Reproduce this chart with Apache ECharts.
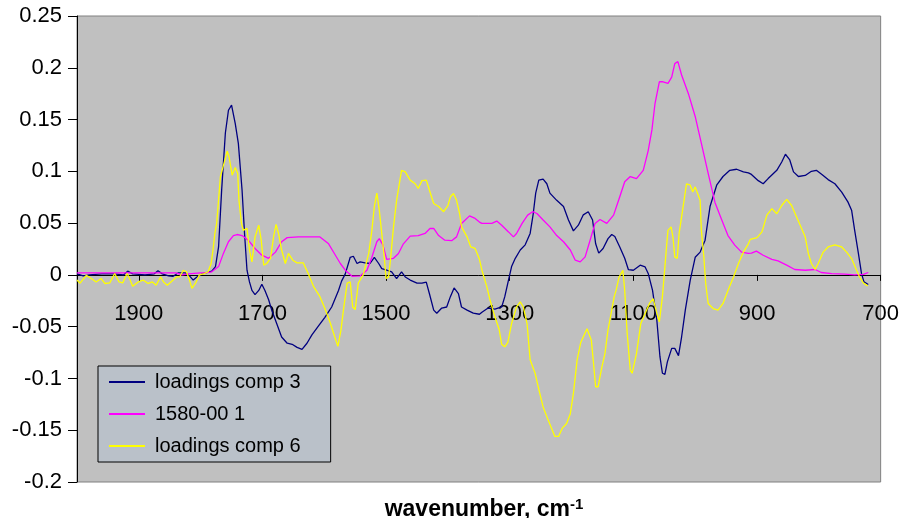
<!DOCTYPE html>
<html>
<head>
<meta charset="utf-8">
<script src="https://cdn.jsdelivr.net/npm/echarts@6/dist/echarts.min.js"></script>
<style>
html,body{margin:0;padding:0;background:#fff;}
#chart{width:902px;height:518px;}
</style>
</head>
<body>
<div id="chart"></div>
<script>
// ---- data ----
const seriesNames = ['loadings comp 3', '1580-00 1', 'loadings comp 6'];

const comp3Wn = [2000,1990,1980,1960,1940,1925,1918,1910,1890,1875,1869,1862,1852,1845,1836,1825,1818,1812,1806,1798,1792,1782,1776,1771,1766,1760,1755,1750,1744,1739,1733,1729,1725,1721,1717,1712,1706,1701,1696,1690,1685,1677,1669,1660,1652,1644,1636,1628,1620,1609,1599,1588,1577,1572,1566,1558,1553,1547,1542,1534,1526,1519,1512,1507,1499,1491,1483,1475,1469,1461,1450,1442,1435,1430,1423,1418,1410,1402,1396,1390,1383,1378,1369,1359,1349,1345,1335,1324,1313,1308,1302,1297,1291,1283,1275,1267,1262,1258,1253,1246,1240,1235,1224,1213,1205,1197,1189,1181,1173,1166,1161,1156,1149,1141,1135,1130,1122,1114,1108,1100,1089,1081,1076,1069,1062,1057,1053,1049,1045,1038,1033,1027,1022,1016,1008,1000,992,984,976,965,955,944,933,922,914,909,898,890,882,868,860,854,847,841,833,822,812,804,795,785,774,763,753,747,742,736,731,727,720];
const comp3Val = [0.001,-0.001,0.0,0.001,0.001,0.0,0.0036,0.001,0.0,0.001,0.004,0.001,-0.001,-0.0015,0.002,0.002,-0.001,-0.005,-0.002,0.001,0.002,0.0036,0.008,0.027,0.082,0.137,0.159,0.164,0.146,0.127,0.082,0.040,0.0045,-0.0068,-0.015,-0.019,-0.015,-0.009,-0.015,-0.024,-0.034,-0.047,-0.060,-0.066,-0.067,-0.070,-0.072,-0.066,-0.058,-0.049,-0.041,-0.031,-0.015,-0.006,0.001,0.017,0.018,0.011,0.0125,0.0116,0.011,0.017,0.011,0.006,0.0045,0.003,-0.0035,0.003,-0.002,-0.005,-0.008,-0.008,-0.007,-0.018,-0.034,-0.037,-0.032,-0.031,-0.021,-0.0126,-0.018,-0.031,-0.034,-0.037,-0.038,-0.036,-0.032,-0.033,-0.031,-0.021,-0.005,0.008,0.016,0.024,0.029,0.040,0.059,0.079,0.0915,0.0925,0.088,0.079,0.072,0.066,0.053,0.0425,0.048,0.058,0.061,0.053,0.030,0.021,0.0255,0.035,0.039,0.037,0.027,0.016,0.005,0.0045,0.0094,0.0077,0.0014,-0.015,-0.044,-0.079,-0.095,-0.096,-0.084,-0.071,-0.071,-0.078,-0.060,-0.034,-0.005,0.017,0.022,0.0335,0.066,0.087,0.095,0.101,0.102,0.0995,0.0985,0.097,0.091,0.088,0.093,0.101,0.109,0.1165,0.111,0.0995,0.095,0.096,0.100,0.101,0.097,0.092,0.088,0.080,0.0705,0.0625,0.043,0.0207,0.0014,-0.0068,-0.0093];

const ref1580Wn = [2000,1900,1840,1830,1820,1800,1792,1782,1771,1763,1755,1747,1741,1733,1723,1712,1701,1690,1679,1669,1660,1642,1620,1607,1593,1582,1574,1566,1555,1542,1531,1523,1515,1511,1505,1499,1488,1480,1472,1461,1448,1437,1429,1423,1415,1405,1394,1386,1378,1365,1356,1349,1345,1329,1321,1313,1302,1294,1289,1280,1271,1263,1256,1246,1235,1224,1213,1202,1194,1186,1178,1170,1162,1154,1143,1132,1122,1114,1105,1095,1084,1076,1070,1065,1058,1052,1044,1038,1033,1028,1022,1011,1000,990,979,968,957,947,936,925,914,909,901,890,876,866,852,839,822,806,796,779,758,742,728,720];
const ref1580Val = [0.002,0.002,0.002,0.0,0.001,0.002,0.002,0.003,0.008,0.021,0.032,0.038,0.039,0.038,0.0335,0.0255,0.019,0.016,0.022,0.032,0.036,0.0367,0.0367,0.0367,0.030,0.019,0.011,0.0045,-0.0013,-0.001,0.0045,0.017,0.032,0.035,0.0287,0.015,0.016,0.0207,0.030,0.0374,0.038,0.040,0.0448,0.0448,0.038,0.0335,0.033,0.0367,0.0497,0.057,0.0545,0.051,0.0497,0.0497,0.052,0.048,0.0415,0.0367,0.040,0.0497,0.0577,0.061,0.0593,0.053,0.0464,0.038,0.032,0.024,0.0142,0.0126,0.0174,0.0335,0.0497,0.0535,0.0497,0.0577,0.0754,0.0899,0.095,0.093,0.101,0.120,0.140,0.1655,0.1865,0.1865,0.185,0.191,0.204,0.206,0.193,0.175,0.153,0.127,0.098,0.070,0.053,0.038,0.0287,0.022,0.0207,0.021,0.023,0.019,0.015,0.0135,0.0094,0.0052,0.0045,0.0052,0.0023,0.0013,0.0007,0.0,0.0004,0.0023];

const comp6Wn = [2000,1995,1985,1977,1969,1961,1955,1947,1939,1932,1926,1919,1915,1910,1901,1893,1885,1878,1872,1865,1860,1854,1848,1839,1834,1828,1823,1818,1814,1808,1802,1794,1788,1783,1780,1777,1774,1768,1763,1757,1754,1749,1744,1740,1738,1734,1731,1725,1721,1717,1712,1706,1702,1698,1693,1687,1682,1678,1674,1669,1663,1658,1651,1644,1634,1626,1617,1607,1599,1590,1583,1578,1573,1569,1563,1558,1554,1550,1545,1537,1528,1523,1519,1515,1511,1507,1503,1500,1496,1493,1488,1483,1478,1475,1469,1461,1453,1448,1442,1435,1430,1423,1415,1407,1400,1396,1391,1386,1381,1378,1369,1363,1356,1349,1345,1337,1332,1324,1317,1313,1308,1303,1297,1289,1283,1278,1272,1267,1259,1254,1246,1238,1231,1227,1221,1215,1208,1202,1197,1191,1185,1175,1168,1165,1161,1157,1151,1146,1141,1135,1131,1128,1123,1117,1114,1110,1105,1102,1095,1088,1081,1074,1068,1062,1058,1053,1049,1046,1044,1039,1036,1033,1029,1026,1022,1018,1014,1008,1004,1000,997,992,990,986,983,979,971,963,955,947,938,930,922,914,911,900,892,884,876,868,860,852,844,836,828,822,817,812,806,801,793,785,774,763,755,747,739,734,728,721];
const comp6Val = [-0.005,-0.008,-0.0005,-0.0035,-0.0068,-0.0035,-0.0083,-0.0077,0.0013,-0.0068,-0.0077,0.0013,-0.0035,-0.011,-0.0068,-0.005,-0.0083,-0.0068,-0.010,-0.002,-0.0068,-0.010,-0.0068,-0.002,-0.002,0.0045,0.003,-0.005,-0.013,-0.0077,0.0,0.0013,0.003,0.011,0.024,0.040,0.050,0.095,0.106,0.1195,0.114,0.0963,0.1037,0.098,0.072,0.050,0.043,0.045,0.024,0.0126,0.0367,0.048,0.0335,0.0094,0.011,0.016,0.0367,0.0487,0.040,0.024,0.011,0.0207,0.0142,0.0116,0.0116,0.0013,-0.0116,-0.021,-0.0325,-0.047,-0.060,-0.069,-0.0534,-0.034,-0.008,-0.0068,-0.031,-0.0335,-0.008,0.0,0.021,0.043,0.066,0.079,0.0625,0.040,0.0174,-0.0035,-0.002,0.0142,0.0464,0.072,0.090,0.101,0.0995,0.0915,0.088,0.0835,0.091,0.0915,0.082,0.069,0.066,0.061,0.067,0.0754,0.0786,0.072,0.059,0.0464,0.0367,0.027,0.0255,0.015,0.0045,-0.0116,-0.024,-0.0405,-0.053,-0.067,-0.0695,-0.065,-0.047,-0.031,-0.026,-0.031,-0.047,-0.082,-0.095,-0.108,-0.1275,-0.140,-0.150,-0.156,-0.156,-0.148,-0.1435,-0.134,-0.1145,-0.082,-0.065,-0.052,-0.063,-0.082,-0.108,-0.108,-0.089,-0.076,-0.053,-0.034,-0.021,-0.015,-0.002,0.0045,-0.015,-0.0566,-0.092,-0.095,-0.076,-0.047,-0.0373,-0.0276,-0.023,-0.0373,-0.0454,-0.021,0.0077,0.030,0.043,0.0464,0.0367,0.0174,0.016,0.040,0.056,0.072,0.088,0.0866,0.080,0.085,0.085,0.072,0.043,0.0174,-0.0083,-0.0276,-0.0325,-0.034,-0.0276,-0.015,-0.002,0.011,0.022,0.030,0.0342,0.036,0.0415,0.0577,0.064,0.059,0.067,0.073,0.067,0.056,0.045,0.0367,0.0207,0.011,0.0052,0.011,0.022,0.027,0.029,0.027,0.022,0.0158,0.0045,-0.002,-0.0077,-0.0106];

const yTicks = {min: -0.2, max: 0.25, step: 0.05};
const xTicks = {min: 700, max: 2000, step: 200};

function pairs(xs, ys){ return xs.map((x, i) => [x, ys[i]]); }

const FONT = "'Liberation Sans', Arial, sans-serif";
const colors = ['#000080', '#FF00FF', '#FFFF00'];

const GRID = {left: 77, right: 21, top: 16, bottom: 36};
const plotH = 518 - GRID.top - GRID.bottom;
// distance of the zero line above the plot bottom, from the y scale
const zeroOffset = plotH * (0 - yTicks.min) / (yTicks.max - yTicks.min);

const chart = echarts.init(document.getElementById('chart'), null, {renderer: 'canvas'});
chart.setOption({
  animation: false,
  backgroundColor: '#ffffff',
  title: {
    text: 'wavenumber, cm{sup|-1}',
    left: 479, top: 492, textAlign: 'center',
    textStyle: {
      fontFamily: FONT, fontWeight: 'bold', fontSize: 23, color: '#000',
      rich: { sup: { fontFamily: FONT, fontWeight: 'bold', fontSize: 15, verticalAlign: 'top', padding: [0,0,10,0], color: '#000' } }
    }
  },
  grid: Object.assign({show: true, backgroundColor: '#C0C0C0', borderColor: '#808080', borderWidth: 1}, GRID),
  legend: {
    orient: 'vertical', left: 98, top: 366,
    backgroundColor: '#BAC1C9', borderColor: '#000', borderWidth: 1,
    padding: [5, 30, 5, 11], itemGap: 10,
    itemWidth: 36, itemHeight: 2, icon: 'rect',
    textStyle: {fontFamily: FONT, fontSize: 20, color: '#000', lineHeight: 22, padding: [0,0,0,5]},
    data: seriesNames
  },
  xAxis: {
    type: 'value', inverse: true,
    min: xTicks.min, max: xTicks.max, interval: xTicks.step,
    offset: -zeroOffset,
    axisLine: {onZero: false, lineStyle: {color: '#000', width: 1}},
    axisTick: {show: true, length: 6, lineStyle: {color: '#000'}},
    axisLabel: {
      fontFamily: FONT, fontSize: 22, color: '#000', margin: 28,
      showMaxLabel: false,
      formatter: v => (v === xTicks.max ? '' : String(v))
    },
    splitLine: {show: false}
  },
  yAxis: {
    type: 'value', min: yTicks.min, max: yTicks.max, interval: yTicks.step,
    axisLine: {show: true, onZero: false, lineStyle: {color: '#000', width: 1}},
    axisTick: {show: true, length: 9, lineStyle: {color: '#000'}},
    axisLabel: {
      fontFamily: FONT, fontSize: 22, color: '#000', margin: 15,
      formatter: v => String(parseFloat(v.toFixed(2)))
    },
    splitLine: {show: false}
  },
  series: [
    {name: seriesNames[0], type: 'line', data: pairs(comp3Wn, comp3Val), showSymbol: false, symbol: 'none',
     lineStyle: {color: colors[0], width: 1.3}, itemStyle: {color: colors[0]}},
    {name: seriesNames[1], type: 'line', data: pairs(ref1580Wn, ref1580Val), showSymbol: false, symbol: 'none',
     lineStyle: {color: colors[1], width: 1.3}, itemStyle: {color: colors[1]}},
    {name: seriesNames[2], type: 'line', data: pairs(comp6Wn, comp6Val), showSymbol: false, symbol: 'none',
     lineStyle: {color: colors[2], width: 1.3}, itemStyle: {color: colors[2]}}
  ]
});
</script>
</body>
</html>
